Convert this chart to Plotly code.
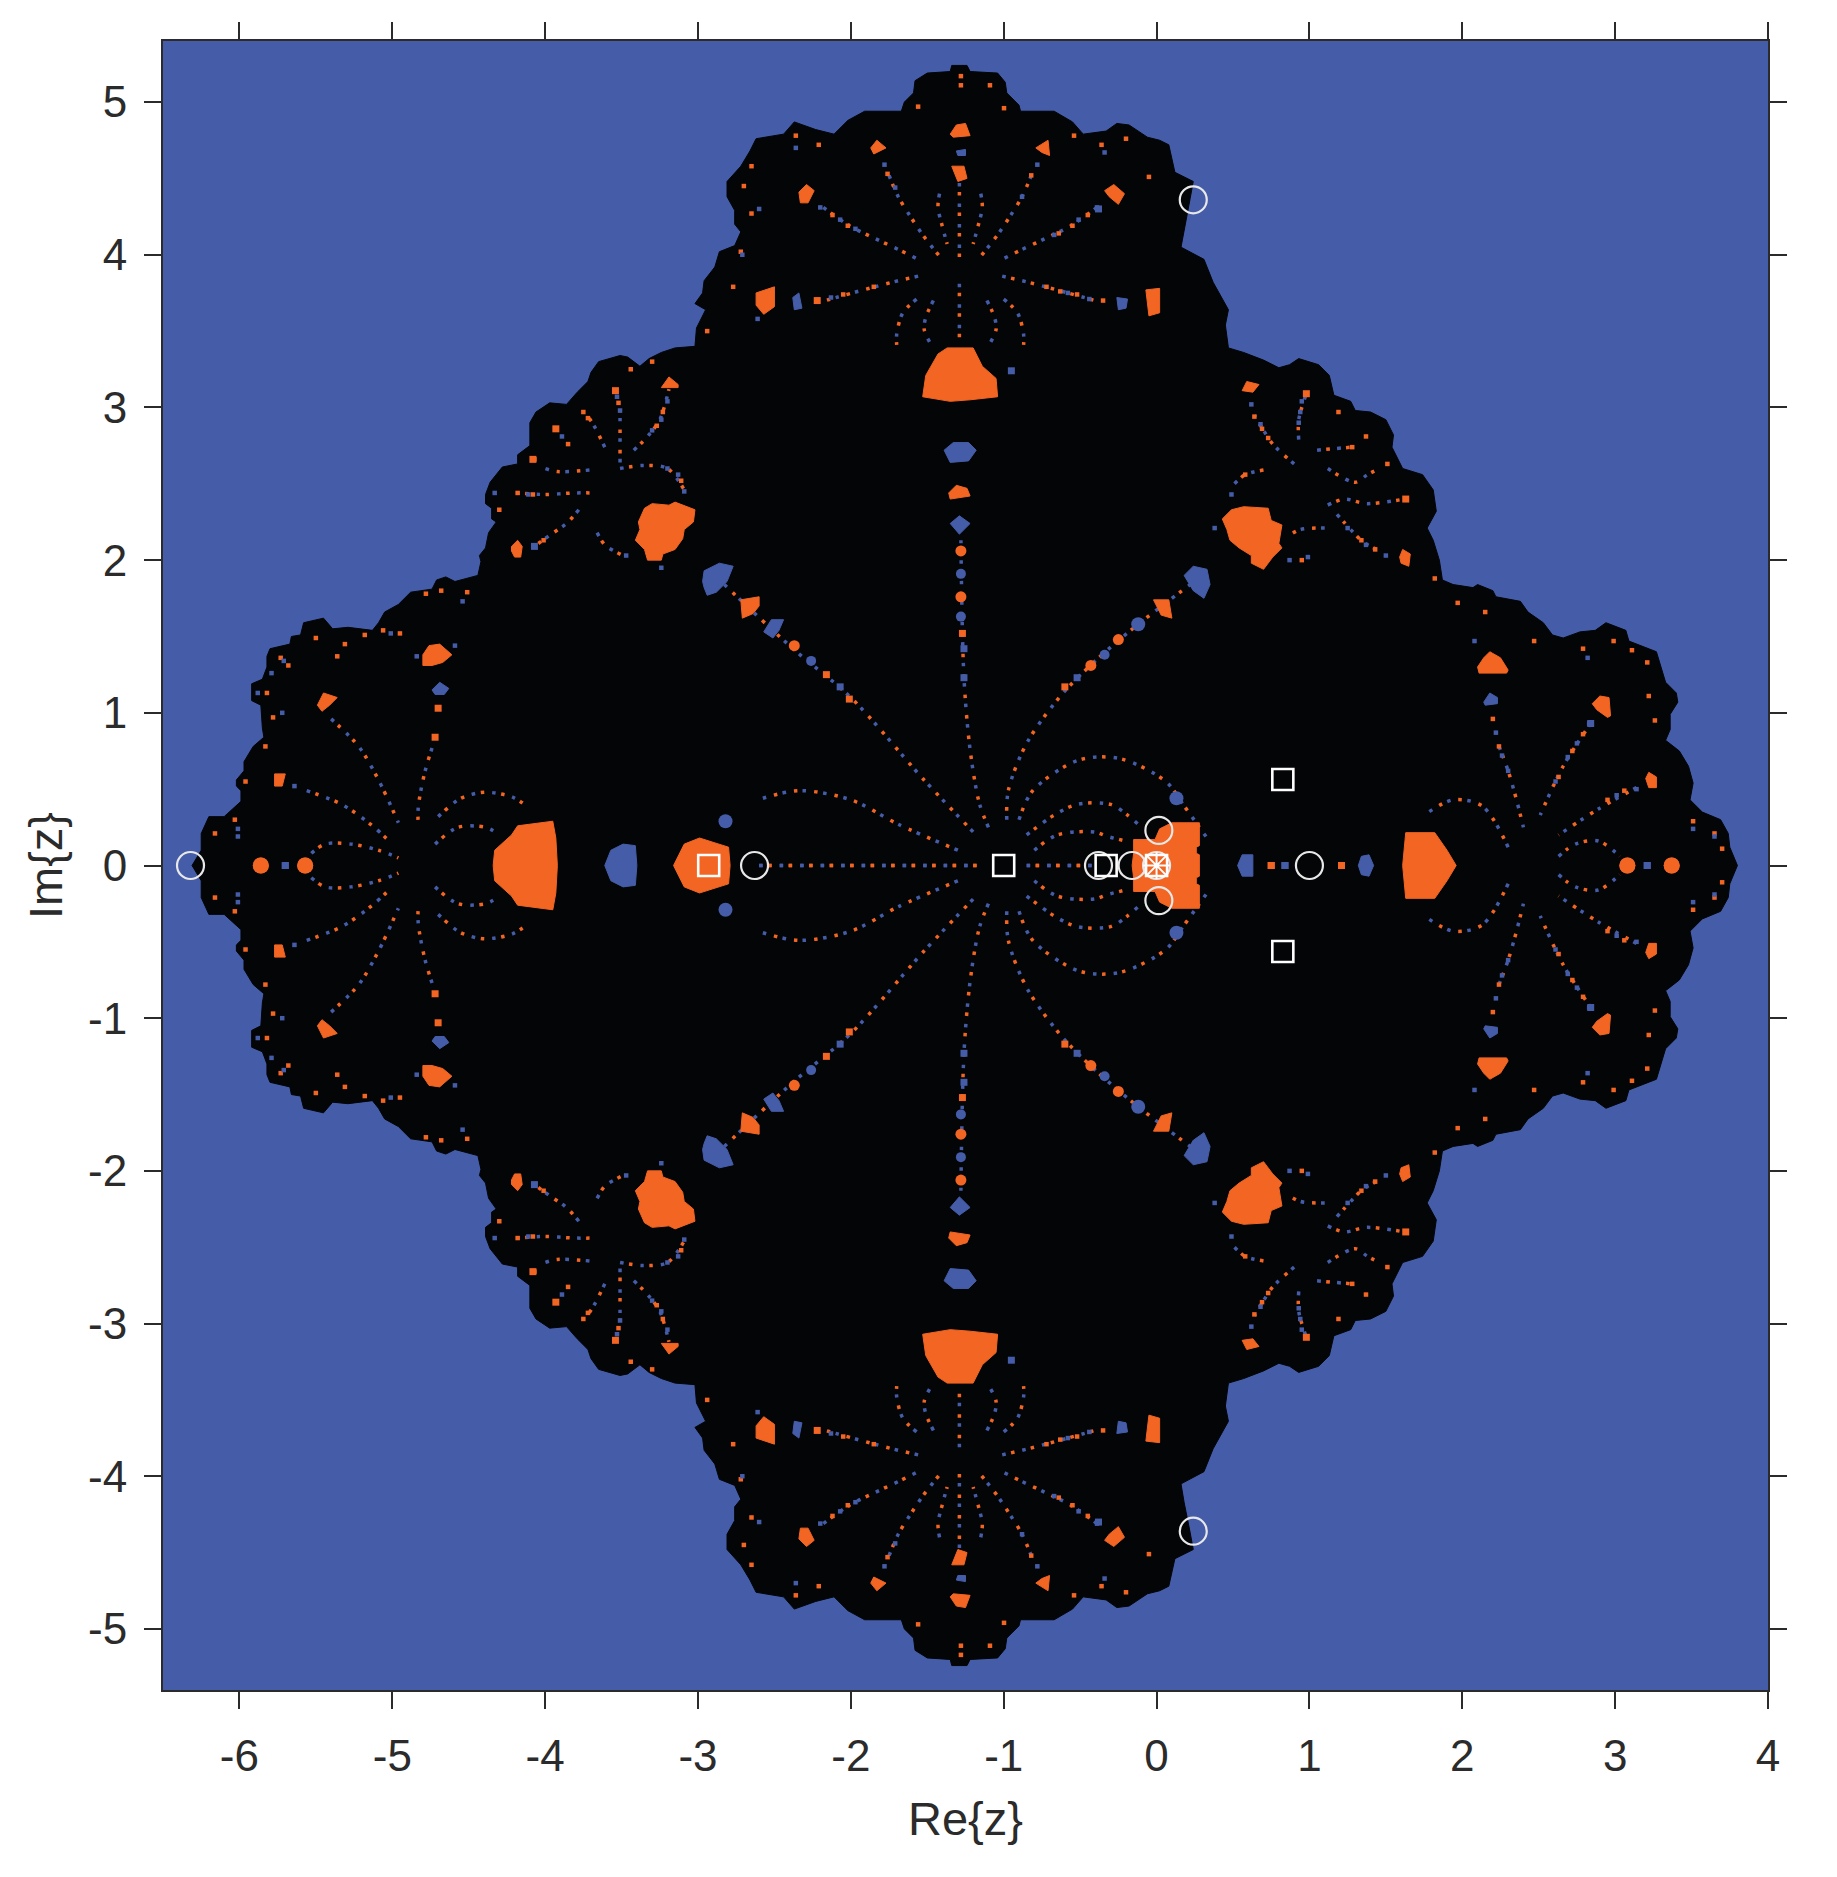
import plotly.graph_objects as go

BLUE = "#455CA8"
ORANGE = "#F26522"
BLACK = "#030507"
INK = "#2B2B2B"

x_ticks = [-6, -5, -4, -3, -2, -1, 0, 1, 2, 3, 4]
x_tick_labels = ["-6", "-5", "-4", "-3", "-2", "-1", "0", "1", "2", "3", "4"]
y_ticks = [-5, -4, -3, -2, -1, 0, 1, 2, 3, 4, 5]
y_tick_labels = ["-5", "-4", "-3", "-2", "-1", "0", "1", "2", "3", "4", "5"]

# upper half of the set's outline, left tip to right tip, read in stretches
outline_left = [(-6.31,0),(-6.25,.10),(-6.25,.21),(-6.20,.32),(-6.10,.32),(-5.99,.42),(-5.99,.49),(-6.02,.52),(-6.02,.56),(-5.97,.62),
                (-5.97,.68),(-5.91,.78),(-5.84,.84),(-5.85,.90),(-5.86,1.05),(-5.92,1.08),(-5.92,1.19),(-5.85,1.22),(-5.82,1.30),(-5.82,1.37),
                (-5.80,1.42),(-5.67,1.45),(-5.66,1.50),(-5.60,1.51),(-5.58,1.59),(-5.45,1.62),(-5.39,1.55),(-5.29,1.56),(-5.13,1.54),(-5.09,1.59),
                (-5.05,1.66),(-4.96,1.71),(-4.88,1.79),(-4.74,1.81),(-4.71,1.87),(-4.65,1.89),(-4.59,1.86),(-4.44,1.90),(-4.42,1.99)]
outline_upper_left = [(-4.43,2.03),(-4.39,2.08),(-4.37,2.18),(-4.32,2.25),(-4.35,2.27),(-4.35,2.34),(-4.39,2.37),(-4.39,2.43),(-4.36,2.51),(-4.28,2.61),
                      (-4.18,2.63),(-4.18,2.69),(-4.10,2.75),(-4.10,2.90),(-4.06,2.97),(-3.97,3.03),(-3.86,3.02),(-3.79,3.10),(-3.72,3.17),(-3.70,3.23),
                      (-3.65,3.30),(-3.51,3.34),(-3.46,3.33),(-3.38,3.27),(-3.32,3.32),(-3.24,3.36),(-3.15,3.39),(-3.02,3.40),(-3.01,3.52),(-2.95,3.64),
                      (-3.02,3.68),(-2.97,3.75)]
outline_top = [(-2.96,3.83),(-2.89,3.92),(-2.86,4.02),(-2.76,4.06),(-2.72,4.15),(-2.76,4.20),(-2.76,4.29),(-2.81,4.38),(-2.81,4.48),(-2.72,4.58),
               (-2.66,4.68),(-2.62,4.76),(-2.44,4.79),(-2.37,4.87),(-2.23,4.82),(-2.11,4.79),(-2.02,4.88),(-1.91,4.94),(-1.67,4.94),(-1.65,5.00),
               (-1.59,5.06),(-1.58,5.14),(-1.50,5.19),(-1.35,5.20),(-1.34,5.24),(-1.24,5.24),(-1.22,5.20),(-1.04,5.19),(-.99,5.13),(-.98,5.06),
               (-.90,4.98),(-.89,4.94),(-.67,4.94),(-.55,4.87),(-.48,4.79),(-.33,4.81),(-.26,4.86),(-.18,4.85),(-.06,4.77),(.02,4.75)]
outline_upper_right = [(.08,4.72),(.12,4.54),(.24,4.48),(.22,4.37),(.18,4.17),(.16,4.05),(.31,3.97),(.37,3.82),(.47,3.64),(.45,3.54),
                       (.47,3.39),(.57,3.36),(.70,3.31),(.80,3.26),(.87,3.28),(.93,3.32),(1.06,3.28),(1.13,3.21),(1.16,3.08),(1.27,3.04),
                       (1.30,2.98),(1.40,2.97),(1.50,2.92),(1.55,2.82),(1.54,2.74),(1.61,2.60),(1.74,2.56),(1.81,2.46),(1.83,2.32),(1.77,2.21),
                       (1.81,2.13),(1.85,2.00),(1.87,1.87)]
outline_right = [(1.94,1.84),(2.07,1.82),(2.10,1.84),(2.20,1.80),(2.22,1.76),(2.38,1.73),(2.43,1.66),(2.53,1.59),(2.59,1.51),(2.66,1.49),
                 (2.77,1.53),(2.87,1.54),(2.94,1.59),(3.07,1.54),(3.09,1.47),(3.27,1.40),(3.30,1.30),(3.33,1.20),(3.40,1.13),(3.41,1.07),
                 (3.36,.99),(3.36,.89),(3.33,.82),(3.42,.75),(3.48,.65),(3.51,.54),(3.49,.43),(3.57,.35),(3.69,.30),(3.74,.21),(3.75,.12),(3.80,0)]

# regions touching the real axis (upper half, mirrored when drawn)
axis_orange_regions = [
    [(-4.34,0),(-4.33,.10),(-4.22,.20),(-4.18,.26),(-3.95,.29),(-3.93,.18),(-3.92,0)],
    [(-3.16,0),(-3.09,.14),(-2.99,.18),(-2.80,.12),(-2.79,0)],
    [(-.16,0),(-.15,.08),(-.15,.17),(-.01,.17),(.02,.24),(.10,.28),(.28,.28),(.28,.13),(.26,.12),(.26,.08),(.28,.07),(.28,0)],
    [(1.61,0),(1.63,.215),(1.82,.215),(1.90,.10),(1.96,0)],
]
axis_blue_regions = [
    [(-3.61,0),(-3.57,.10),(-3.49,.14),(-3.41,.13),(-3.40,0)],
    [(.53,0),(.56,.07),(.63,.07),(.63,0)],
    [(1.32,0),(1.34,.06),(1.39,.07),(1.42,0)],
]
# regions off the axis (upper half; each has a mirror image below)
orange_regions = [
    [(-1.53,3.07),(-1.51,3.21),(-1.43,3.35),(-1.37,3.39),(-1.20,3.39),(-1.14,3.27),(-1.05,3.19),(-1.04,3.07),(-1.22,3.05),(-1.35,3.04)],
    [(-3.41,2.13),(-3.38,2.20),(-3.39,2.25),(-3.35,2.34),(-3.30,2.37),(-3.19,2.36),(-3.15,2.38),(-3.02,2.33),(-3.03,2.25),(-3.09,2.20),(-3.10,2.14),(-3.15,2.07),(-3.23,2.04),(-3.24,2.00),(-3.33,2.00),(-3.35,2.07)],
    [(.43,2.27),(.49,2.33),(.57,2.35),(.73,2.34),(.75,2.26),(.82,2.23),(.80,2.11),(.82,2.08),(.76,2.02),(.73,1.98),(.70,1.94),(.62,1.98),(.62,2.03),(.54,2.08),(.48,2.13),(.46,2.20)],
    [(-2.72,1.74),(-2.60,1.76),(-2.60,1.70),(-2.64,1.65),(-2.71,1.62)],
    [(-3.24,3.13),(-3.19,3.20),(-3.13,3.15),(-3.13,3.13)],
    [(-4.22,2.09),(-4.18,2.13),(-4.15,2.09),(-4.16,2.02),(-4.20,2.02),(-4.22,2.06)],
    [(.56,3.11),(.59,3.17),(.67,3.15),(.63,3.10)],
    [(-4.80,1.38),(-4.76,1.44),(-4.69,1.45),(-4.61,1.38),(-4.67,1.33),(-4.74,1.31),(-4.80,1.31)],
    [(-5.49,1.05),(-5.45,1.13),(-5.36,1.10),(-5.41,1.05),(-5.46,1.01)],
    [(-5.77,.60),(-5.70,.60),(-5.72,.52),(-5.77,.52)],
    [(-1.35,4.79),(-1.31,4.85),(-1.25,4.86),(-1.22,4.78),(-1.33,4.77)],
    [(-1.34,4.58),(-1.26,4.58),(-1.24,4.50),(-1.30,4.48)],
    [(-.79,4.70),(-.71,4.75),(-.70,4.65),(-.75,4.67)],
    [(-1.87,4.70),(-1.83,4.75),(-1.77,4.70),(-1.85,4.66)],
    [(-.34,4.42),(-.28,4.46),(-.21,4.40),(-.25,4.33),(-.31,4.38)],
    [(-2.34,4.41),(-2.29,4.46),(-2.24,4.42),(-2.28,4.34),(-2.33,4.34)],
    [(-2.62,3.75),(-2.50,3.79),(-2.50,3.66),(-2.57,3.61),(-2.62,3.67)],
    [(-.07,3.77),(.02,3.78),(.02,3.62),(-.05,3.60)],
    [(2.10,1.30),(2.14,1.36),(2.18,1.40),(2.25,1.36),(2.30,1.28),(2.29,1.26),(2.11,1.26)],
    [(2.85,1.06),(2.90,1.11),(2.96,1.10),(2.97,.98),(2.95,.97),(2.88,1.02)],
    [(3.20,.57),(3.22,.61),(3.27,.58),(3.27,.51),(3.22,.51)],
    [(1.59,2.02),(1.61,2.07),(1.66,2.04),(1.65,1.96),(1.60,1.98)],
    [(-.02,1.74),(.08,1.74),(.10,1.62),(.03,1.64)],
    [(-1.36,2.44),(-1.31,2.49),(-1.24,2.47),(-1.22,2.42),(-1.35,2.40)],
]
blue_regions = [
    [(-2.97,1.86),(-2.96,1.93),(-2.86,1.98),(-2.77,1.96),(-2.81,1.86),(-2.88,1.79),(-2.94,1.77),(-2.96,1.82)],
    [(-2.57,1.53),(-2.52,1.61),(-2.44,1.61),(-2.47,1.54),(-2.51,1.49)],
    [(-4.74,1.15),(-4.69,1.20),(-4.63,1.16),(-4.66,1.12),(-4.72,1.12)],
    [(-2.38,3.72),(-2.34,3.75),(-2.32,3.65),(-2.37,3.64)],
    [(-.26,3.72),(-.19,3.71),(-.20,3.65),(-.25,3.64)],
    [(-1.31,4.68),(-1.25,4.69),(-1.25,4.65),(-1.30,4.65)],
    [(2.14,1.07),(2.18,1.13),(2.23,1.10),(2.23,1.06),(2.15,1.05)],
    [(-1.39,2.72),(-1.33,2.77),(-1.23,2.77),(-1.18,2.72),(-1.23,2.65),(-1.35,2.64)],
    [(.18,1.90),(.24,1.96),(.33,1.94),(.35,1.84),(.31,1.75),(.24,1.80)],
    [(-1.35,2.24),(-1.29,2.29),(-1.22,2.24),(-1.29,2.17)],
]

# smaller spots, grouped by how big they look
orange_m = [(-5.86,0),(-5.57,0),(3.08,0),(3.37,0)]
orange_s = [(-2.37,1.44),(-1.28,2.06),(-1.28,1.76),(-.25,1.48),(-.43,1.31)]
orange_xs = [(-2.16,1.25),(-2.01,1.09),(-4.08,2.66),(-3.93,2.86),(-3.54,3.11),(-4.70,1.03),(-4.72,.84),(-2.22,3.70),(1.63,2.40),
             (.98,3.09),(1.21,0),(.75,0),(-1.27,1.52),(-.60,1.17)]
orange_specks = [(-5.50,1.49),(-5.31,1.45),(-5.36,1.37),(-5.68,1.31),(-5.73,1.36),(-5.82,1.13),(-5.78,.97),(-5.83,.78),(-5.96,.55),(-6.03,.30),
                 (-6.16,.21),(-5.06,1.54),(-4.95,1.52),(-5.18,1.51),(-4.78,1.78),(-4.51,1.79),(-4.68,1.80),
                 (-3.75,2.97),(-3.85,2.76),(-4.07,2.66),(-4.18,2.44),(-4.08,2.43),(-4.30,2.33),(-4.01,2.13),(-3.44,3.25),(-3.72,2.93),(-3.52,3.03),
                 (-3.30,3.30),(-3.23,2.97),(-3.27,2.88),(-3.11,2.52),
                 (-1.56,4.97),(-1.09,5.11),(-1.28,5.17),(-1.28,5.11),(-.998,4.96),(-2.21,4.72),(-2.36,4.78),(-2.65,4.58),(-2.70,4.45),(-2.65,4.27),
                 (-2.72,4.02),(-2.77,3.79),(-2.94,3.50),(-.36,4.72),(-.20,4.76),(-.05,4.51),(-.54,4.78),(-.45,4.26),(-.55,4.19),(-.64,4.14),
                 (-2.12,4.26),(-2.02,4.19),(-1.76,4.53),(-.82,4.52),(-.72,3.79),(-.63,3.76),(-.52,3.74),(-.35,3.70),(-2.05,3.74),(-1.85,3.79),
                 (1.97,1.72),(2.79,1.42),(2.99,1.47),(3.11,1.41),(3.21,1.33),(3.22,1.11),(3.26,.95),(2.47,1.47),(2.15,1.66),(2.24,.78),(2.20,.96),
                 (2.79,.86),(2.72,.75),(2.63,.58),(3.06,.49),(2.95,.43),(3.51,.29),(3.70,.11),(3.65,.21),
                 (1.19,2.97),(1.37,2.81),(1.28,2.74),(1.51,2.63),(1.34,2.13),(1.43,2.07),(1.82,1.88),(.64,2.94),(.69,2.86),(.73,2.80),(.58,2.56),(.95,2.00)]
blue_l = [(-2.82,.29),(.13,.44),(-.12,1.58)]
blue_s = [(-2.26,1.34),(-1.28,1.91),(-.34,1.38),(-1.28,1.63)]
blue_xs = [(-2.07,1.17),(-4.07,2.09),(-5.70,0),(-.52,1.23),(-.38,4.30),(3.21,0),(2.84,.93),(-.95,3.24),(-1.26,1.42),(-1.26,1.23),(.84,0)]
blue_specks = [(-5.79,1.26),(-5.88,1.13),(-5.72,1.00),(-5.71,1.34),(-6.01,.24),(-6.01,.19),(-5.01,1.52),(-4.54,1.73),(-4.84,1.37),(-4.59,1.44),(-5.64,.52),
               (-3.89,2.81),(-4.33,2.44),(-4.11,2.43),(-3.53,3.07),(-3.51,2.98),(-3.20,3.04),(-3.24,2.92),(-3.30,2.85),(-3.13,2.56),(-3.09,2.45),(-3.20,2.60),(-3.47,2.03),(-3.24,1.95),
               (-1.78,4.59),(-.78,4.59),(-2.20,4.31),(-2.07,4.23),(-1.97,4.17),(-.39,4.31),(-.51,4.23),(-.67,4.13),(-2.60,4.30),(-2.36,4.70),(-2.71,4.00),(-2.13,3.72),(-.58,3.75),(-.44,3.71),(-.34,4.67),(-1.71,4.44),(-.88,4.38),(-2.61,3.58),
               (2.82,1.36),(2.83,.93),(2.75,.80),(2.69,.71),(2.61,.55),(3.14,.50),(3.01,.46),(2.22,.87),(2.26,.72),(2.30,.62),(2.08,1.47),(3.65,.19),(3.51,.24),
               (.62,3.02),(.68,2.89),(.95,3.04),(.94,2.97),(.93,2.90),(1.50,2.03),(.49,2.43),(.87,2.0),(.99,2.02),(.38,2.21),(1.37,2.10),(1.25,2.21)]

# dotted filaments (upper half)
main_hub_filaments = [
    [(-1.2,.22),(-1.53,.57),(-2.0,1.10),(-2.39,1.43),(-2.87,1.88)],
    [(-1.1,.25),(-1.16,.41),(-1.22,.76),(-1.26,1.23),(-1.28,2.13)],
    [(-.98,.3),(-.97,.49),(-.85,.80),(-.62,1.12),(-.39,1.35),(-.12,1.58),(.26,1.87)],
    [(-.9,.3),(-.81,.49),(-.51,.69),(-.24,.70),(.06,.55),(.18,.39),(.33,.18)],
    [(-.85,.2),(-.67,.33),(-.52,.40),(-.30,.40),(-.19,.33),(-.12,.27)],
    [(-.8,.1),(-.65,.20),(-.41,.22),(-.32,.19),(-.20,.16)],
    [(-1.3,.1),(-1.69,.27),(-2.0,.43),(-2.34,.49),(-2.61,.43)],
    [(-2.6,0),(-1.15,0)],
    [(-.85,0),(-.4,0)],
]
left_hub_filaments = [
    [(-4.72,.14),(-4.57,.25),(-4.39,.25),(-4.31,.21)],
    [(-4.70,.32),(-4.57,.43),(-4.50,.46),(-4.39,.48),(-4.22,.45),(-4.12,.39)],
    [(-5.53,.08),(-5.44,.14),(-5.27,.14),(-5.09,.10),(-4.96,.05)],
    [(-5.40,.96),(-5.22,.78),(-5.09,.56),(-4.96,.28)],
    [(-4.74,.77),(-4.79,.60),(-4.83,.38),(-4.83,.25)],
    [(-5.56,.49),(-5.33,.40),(-5.13,.26),(-5.0,.14)],
]
right_hub_filaments = [
    [(2.24,.78),(2.30,.62),(2.36,.41),(2.40,.25)],
    [(2.84,.93),(2.66,.65),(2.51,.33)],
    [(3.14,.51),(2.89,.37),(2.63,.20)],
    [(2.63,.06),(2.74,.14),(2.89,.16),(3.03,.06)],
    [(2.30,.12),(2.13,.39),(1.94,.43),(1.78,.35)],
]
top_hub_side_filaments = [
    [(-.82,4.52),(-.88,4.38),(-.96,4.25),(-1.04,4.13),(-1.15,3.99)],
    [(-.39,4.31),(-.56,4.19),(-.72,4.11),(-.89,4.03),(-1.01,3.97)],
    [(-1.01,3.86),(-.84,3.82),(-.58,3.75),(-.37,3.69)],
    [(-1.0,3.71),(-.91,3.62),(-.87,3.48),(-.87,3.41)],
    [(-1.11,3.70),(-1.06,3.59),(-1.05,3.51),(-1.09,3.42)],
    [(-1.15,4.40),(-1.14,4.31),(-1.17,4.18),(-1.20,4.07)],
]
top_hub_centre_filaments = [
    [(-1.29,4.47),(-1.29,3.98)],
    [(-1.29,3.81),(-1.29,3.42)],
]
upper_right_hub_filaments = [
    [(1.12,2.36),(1.23,2.40),(1.37,2.37),(1.62,2.40)],
    [(1.18,2.30),(1.27,2.20),(1.35,2.12),(1.44,2.07)],
    [(1.12,2.60),(1.30,2.51),(1.38,2.56),(1.46,2.60)],
    [(1.05,2.72),(1.16,2.73),(1.28,2.74)],
    [(.93,2.79),(.93,2.92),(.98,3.09)],
    [(.90,2.63),(.76,2.76),(.70,2.85),(.64,2.95)],
    [(.51,2.50),(.58,2.56),(.70,2.59)],
    [(1.10,2.21),(.94,2.20),(.85,2.15)],
]
upper_left_hub_filaments = [
    [(-4.19,2.44),(-4.0,2.43),(-3.81,2.44),(-3.67,2.44)],
    [(-3.78,2.33),(-3.86,2.24),(-3.96,2.17),(-4.07,2.09)],
    [(-3.71,2.59),(-3.92,2.58),(-4.0,2.60)],
    [(-3.51,2.64),(-3.51,2.82),(-3.51,2.93),(-3.51,3.03)],
    [(-3.42,2.72),(-3.33,2.81),(-3.25,2.92),(-3.19,3.12)],
    [(-3.61,2.74),(-3.68,2.88),(-3.74,2.97)],
    [(-3.51,2.60),(-3.36,2.62),(-3.20,2.60),(-3.09,2.46)],
    [(-3.66,2.18),(-3.61,2.10),(-3.53,2.05),(-3.47,2.02)],
]

# white reference markers
circle_re = [-6.32,-2.63,-.38,-.16,0,.015,.015,1.0,.24,.24]
circle_im = [0,0,0,0,0,.23,-.23,0,4.36,-4.36]
square_re = [-2.93,-1,-.33,0,.826,.826]
square_im = [0,0,0,0,.563,-.563]
star_re = [0]
star_im = [0]

TOP_AXIS_RE = -1.285


def poly_trace(points, color):
    xs = [p[0] for p in points]
    ys = [p[1] for p in points]
    return go.Scatter(x=xs + [xs[0]], y=ys + [ys[0]], mode="lines", fill="toself",
                      fillcolor=color, line=dict(color=color, width=1), hoverinfo="skip", showlegend=False)


def mirrored(points):
    return [(a, -b) for a, b in points]


def spots(points, color, size, symbol="circle"):
    pts = points + mirrored(points)
    return go.Scatter(x=[p[0] for p in pts], y=[p[1] for p in pts], mode="markers",
                      marker=dict(color=color, size=size, symbol=symbol, line=dict(width=0)),
                      hoverinfo="skip", showlegend=False)


outline = outline_left + outline_upper_left + outline_top + outline_upper_right + outline_right

fig = go.Figure()
fig.add_trace(poly_trace(outline + mirrored(outline)[::-1], BLACK))

filaments = (main_hub_filaments + left_hub_filaments + right_hub_filaments + top_hub_side_filaments
             + top_hub_centre_filaments + upper_right_hub_filaments + upper_left_hub_filaments
             + [[(2 * TOP_AXIS_RE - a, b) for a, b in f] for f in top_hub_side_filaments])
fx, fy = [], []
for f in filaments:
    for sign in (1, -1):
        fx += [p[0] for p in f] + [None]
        fy += [sign * p[1] for p in f] + [None]
fig.add_trace(go.Scatter(x=fx, y=fy, mode="lines",
                         line=dict(color=BLUE, width=3.5, dash="3.5px,17px", shape="spline", smoothing=0.9),
                         hoverinfo="skip", showlegend=False))
fig.add_trace(go.Scatter(x=fx, y=fy, mode="lines",
                         line=dict(color=ORANGE, width=3.5, dash="0px,9px,3.5px,8px", shape="spline", smoothing=0.9),
                         hoverinfo="skip", showlegend=False))

for region in axis_orange_regions:
    fig.add_trace(poly_trace(region + mirrored(region)[::-1], ORANGE))
for region in axis_blue_regions:
    fig.add_trace(poly_trace(region + mirrored(region)[::-1], BLUE))
for region in orange_regions:
    fig.add_trace(poly_trace(region, ORANGE))
    fig.add_trace(poly_trace(mirrored(region), ORANGE))
for region in blue_regions:
    fig.add_trace(poly_trace(region, BLUE))
    fig.add_trace(poly_trace(mirrored(region), BLUE))

fig.add_trace(spots(orange_m, ORANGE, 16))
fig.add_trace(spots(orange_s, ORANGE, 11))
fig.add_trace(spots(orange_xs, ORANGE, 7, "square"))
fig.add_trace(spots(orange_specks, ORANGE, 4.5, "square"))
fig.add_trace(spots(blue_l, BLUE, 14))
fig.add_trace(spots(blue_s, BLUE, 10))
fig.add_trace(spots(blue_xs, BLUE, 7, "square"))
fig.add_trace(spots(blue_specks, BLUE, 4.5, "square"))

fig.add_trace(go.Scatter(x=circle_re, y=circle_im, mode="markers",
                         marker=dict(symbol="circle-open", size=27, color="#E8E8E8", line=dict(width=2.2, color="#E8E8E8")),
                         hoverinfo="skip", showlegend=False))
fig.add_trace(go.Scatter(x=square_re, y=square_im, mode="markers",
                         marker=dict(symbol="square-open", size=21, color="white", line=dict(width=2.6, color="white")),
                         hoverinfo="skip", showlegend=False))
fig.add_trace(go.Scatter(x=star_re, y=star_im, mode="markers",
                         marker=dict(symbol="asterisk-open", size=22, color="white", line=dict(width=2, color="white")),
                         hoverinfo="skip", showlegend=False))

axis_style = dict(showgrid=False, zeroline=False, showline=True, linecolor=INK, linewidth=2,
                  mirror="ticks", ticks="outside", ticklen=17, tickwidth=2, tickcolor=INK,
                  tickfont=dict(family="Liberation Sans", size=44, color=INK), automargin=False)

fig.update_layout(
    width=1821, height=1861,
    margin=dict(l=154.6, r=61, t=32.5, b=179),
    paper_bgcolor="white", plot_bgcolor=BLUE, showlegend=False,
    xaxis=dict(range=[-6.5, 4], tickmode="array", tickvals=x_ticks, ticktext=x_tick_labels,
               ticklabelstandoff=9,
               title=dict(text="Re{z}", font=dict(family="Liberation Sans", size=47, color=INK), standoff=23),
               **axis_style),
    yaxis=dict(range=[-5.40, 5.40], tickmode="array", tickvals=y_ticks, ticktext=y_tick_labels,
               ticklabelstandoff=8,
               title=dict(text="Im{z}", font=dict(family="Liberation Sans", size=47, color=INK), standoff=11),
               **axis_style),
)

fig.write_html("out.html")
